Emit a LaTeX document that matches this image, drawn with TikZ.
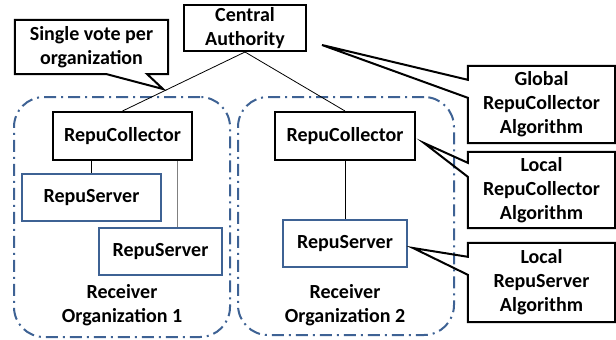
\documentclass[tikz,border=0pt]{standalone}
\usepackage{fontspec}
\setmainfont{Carlito}
\usetikzlibrary{calc}
\definecolor{orgblue}{RGB}{62,98,148}
\begin{document}
\begin{tikzpicture}[x=1pt,y=-1pt,
  every node/.style={font=\fontsize{20}{24}\selectfont\bfseries, align=center, inner sep=0pt},
  blk/.style={draw=black, line width=2pt},
  srv/.style={draw=orgblue, line width=2pt},
  org/.style={draw=orgblue, line width=2pt, rounded corners=30pt, dash pattern=on 12pt off 5pt on 2pt off 5pt},
  link/.style={draw=black, line width=0.8pt},
  callout/.style={draw=black, line width=2pt, line join=miter},
]
\useasboundingbox (0,0) rectangle (616,340);
% organisations
\node[org, minimum width=216pt, minimum height=240pt] (o1) at (122,217) {};
\node[org, minimum width=216pt, minimum height=238pt] (o2) at (346,216) {};
% boxes
\node[blk, minimum width=122pt, minimum height=46pt] (ca) at (245,28) {Central\\Authority};
\node[blk, minimum width=139pt, minimum height=48pt] (lrc) at (122.5,136) {RepuCollector};
\node[srv, minimum width=139pt, minimum height=47pt] (lrs1) at (91.5,197.5) {RepuServer};
\node[srv, minimum width=123pt, minimum height=47pt] (lrs2) at (160.5,251.5) {RepuServer};
\node[blk, minimum width=140pt, minimum height=48pt] (rrc) at (345,136) {RepuCollector};
\node[srv, minimum width=124pt, minimum height=47pt] (rrs) at (345,243.5) {RepuServer};
\node (l1) at (122,305) {Receiver\\Organization 1};
\node (l2) at (345,305) {Receiver\\Organization 2};
% links
\draw[link] (ca.south) -- (lrc.north);
\draw[link] (ca.south) -- (rrc.north);
\draw[link] (lrs1.north |- lrc.south) -- (lrs1.north);
\coordinate (k) at ($(lrc.south east)+(-16,0)$);
\draw[link, draw=gray] (k) -- (k |- lrs2.north);
\draw[link] (rrc.south) -- (rrs.north);
% callouts
\node[minimum width=153pt, minimum height=54pt] (sv) at (91.5,47) {Single vote per\\organization};
\coordinate (svtip) at (163,89);
\draw[callout] (sv.north west) -- (sv.north east) -- (sv.south east) -- ($(sv.south east)+(-21,0)$) -- (svtip) -- ($(sv.south west)+(92,0)$) -- (sv.south west) -- cycle;

\node[minimum width=147pt, minimum height=77pt] (gl) at (541.5,104.5) {Global\\RepuCollector\\Algorithm};
\coordinate (gltip) at (322,45);
\draw[callout] (gl.north west) -- ($(gl.north west)+(0,14)$) -- (gltip) -- ($(gl.north west)+(0,32)$) -- (gl.south west) -- (gl.south east) -- (gl.north east) -- cycle;

\node[minimum width=147pt, minimum height=76pt] (lc) at (541.5,190) {Local\\RepuCollector\\Algorithm};
\coordinate (lctip) at (424,143);
\draw[callout] (lc.north west) -- ($(lc.north west)+(0,11)$) -- (lctip) -- ($(lc.north west)+(0,25)$) -- (lc.south west) -- (lc.south east) -- (lc.north east) -- cycle;

\node[minimum width=147pt, minimum height=79pt] (ls) at (541.5,282.5) {Local\\RepuServer\\Algorithm};
\coordinate (lstip) at (413,248);
\draw[callout] (ls.north west) -- ($(ls.north west)+(0,14)$) -- (lstip) -- ($(ls.north west)+(0,32)$) -- (ls.south west) -- (ls.south east) -- (ls.north east) -- cycle;
\end{tikzpicture}
\end{document}
